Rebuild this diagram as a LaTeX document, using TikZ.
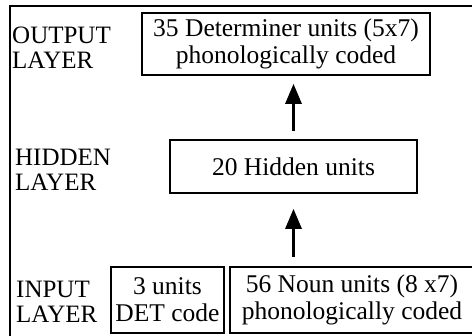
\documentclass[tikz,border=0pt]{standalone}
\usepackage{fontspec}
\setmainfont{Liberation Serif}
\usetikzlibrary{arrows.meta}

\tikzset{
  unitbox/.style={draw, line width=2pt, inner sep=0pt, align=center,
    font=\fontsize{25.5}{27}\selectfont},
  layerlabel/.style={anchor=west, inner sep=0pt, align=left,
    font=\fontsize{25}{25}\selectfont},
  uparrow/.style={draw, line width=3pt,
    -{Triangle[width=17pt,length=20pt,line width=0pt]}}
}

\begin{document}
\begin{tikzpicture}[x=1pt,y=-1pt]
        \useasboundingbox (0,0) rectangle (472,336);
        \clip (0,0) rectangle (472,336);

        % frame
        \draw[line width=2.5pt] (10,340) -- (10,6) -- (476,6);

        \node[layerlabel] (outlabel) at (12,48) {OUTPUT\\LAYER};
        \node[layerlabel] (hidlabel) at (15,169.5) {HIDDEN\\LAYER};
        \node[layerlabel] (inlabel) at (16,301.5) {INPUT\\LAYER};

        \node[unitbox, minimum width=288, minimum height=62] (output) at (286,44) {35 Determiner units (5x7)\\phonologically coded};
        \node[unitbox, minimum width=247, minimum height=53] (hidden) at (293.5,166.5) {20 Hidden units};
        \node[unitbox, minimum width=113, minimum height=66] (det) at (167.5,300) {3 units\\DET code};
        \node[unitbox, minimum width=244, minimum height=66] (noun) at (352,300) {56 Noun units (8 x7)\\phonologically coded};

        \path[uparrow, shorten <=8pt, shorten >=8pt] (hidden.north) -- (hidden.north |- output.south);
        \path[uparrow, shorten <=9pt, shorten >=15pt] (hidden.south |- noun.north) -- (hidden.south);
\end{tikzpicture}
\end{document}
